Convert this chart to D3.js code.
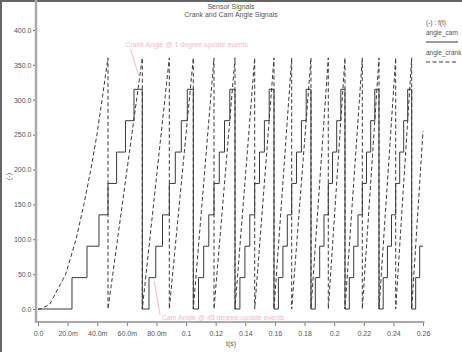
<!DOCTYPE html>
<html>
<head>
<meta charset="utf-8">
<script src="https://cdn.jsdelivr.net/npm/d3@7"></script>
<style>
  html, body { margin: 0; padding: 0; background: #fff; }
  svg { display: block; font-family: "Liberation Sans", Arial, sans-serif; }
</style>
</head>
<body>
<div id="chart-area"></div>
<script>
// Crank angle (deg) vs time (s): accelerating first revolution, then wraps at 360
var crankTimes = [0, 0.0018, 0.008, 0.0187, 0.0257, 0.031, 0.0357, 0.0398, 0.0436,
	0.04727, 0.04727, 0.07044, 0.07044, 0.08867, 0.08867, 0.10488, 0.10488,
	0.11886, 0.11886, 0.13304, 0.13304, 0.14634, 0.14634, 0.15937, 0.15937,
	0.17133, 0.17133, 0.18436, 0.18436, 0.19604, 0.19604, 0.20732, 0.20732,
	0.21901, 0.21901, 0.23028, 0.23028, 0.24156, 0.24156, 0.25236, 0.25236, 0.26];
var crankAngles = [0, 0, 7, 50, 100, 150, 200, 250, 305,
	360, 0, 360, 0, 360, 0, 360, 0,
	360, 0, 360, 0, 360, 0, 360, 0,
	360, 0, 360, 0, 360, 0, 360, 0,
	360, 0, 360, 0, 360, 0, 360, 0, 255];

// Cam angle (deg): held value starting at each time
var camTimes = [0, 0.02296, 0.03309, 0.04119, 0.04727, 0.05308, 0.05909, 0.06483,
	0.07044, 0.07496, 0.07955, 0.08408, 0.08867, 0.09272, 0.09677, 0.10082,
	0.10488, 0.10839, 0.11190, 0.11534, 0.11886, 0.12243, 0.12595, 0.12953,
	0.13304, 0.13635, 0.13972, 0.14303, 0.14634, 0.14958, 0.15289, 0.15613,
	0.15937, 0.16235, 0.16539, 0.16836, 0.17133, 0.17457, 0.17788, 0.18112,
	0.18436, 0.18727, 0.19024, 0.19314, 0.19604, 0.19888, 0.20172, 0.20449,
	0.20732, 0.21023, 0.21320, 0.21610, 0.21901, 0.22184, 0.22468, 0.22745,
	0.23028, 0.23312, 0.23596, 0.23873, 0.24156, 0.24426, 0.24696, 0.24966,
	0.25236, 0.25506, 0.25776, 0.26];
var camAngles = [0, 45, 90, 135, 180, 225, 270, 315,
	0, 45, 90, 135, 180, 225, 270, 315,
	0, 45, 90, 135, 180, 225, 270, 315,
	0, 45, 90, 135, 180, 225, 270, 315,
	0, 45, 90, 135, 180, 225, 270, 315,
	0, 45, 90, 135, 180, 225, 270, 315,
	0, 45, 90, 135, 180, 225, 270, 315,
	0, 45, 90, 135, 180, 225, 270, 315,
	0, 45, 90, 90];

// Axis ticks
var xTicks = [0, 0.02, 0.04, 0.06, 0.08, 0.1, 0.12, 0.14, 0.16, 0.18, 0.2, 0.22, 0.24, 0.26];
var xTickLabels = ["0.0", "20.0m", "40.0m", "60.0m", "80.0m", "0.1", "0.12", "0.14", "0.16", "0.18", "0.2", "0.22", "0.24", "0.26"];
var yTicks = [0, 50, 100, 150, 200, 250, 300, 350, 400];
var yTickLabels = ["0.0", "50.0", "100.0", "150.0", "200.0", "250.0", "300.0", "350.0", "400.0"];

var titleLines = ["Sensor Signals", "Crank and Cam Angle Signals"];
var legendTitle = "(-) : f(t)";
var seriesNames = ["angle_cam", "angle_crank"];
var crankNote = "Crank Angle @ 1 degree update events";
var camNote = "Cam Angle @ 45 degree update events";

var width = 462, height = 352;
var lineColor = "#3a3a3a";
var textColor = "#555";
var pink = "#f6b9cb";

var svg = d3.select("#chart-area").append("svg")
	.attr("width", width)
	.attr("height", height);

// Window frame
svg.append("line").attr("x1", 1).attr("y1", 0).attr("x2", 1).attr("y2", height)
	.attr("stroke", "#666").attr("stroke-width", 2);
svg.append("line").attr("x1", 0).attr("y1", 1).attr("x2", width).attr("y2", 1)
	.attr("stroke", "#666").attr("stroke-width", 2);

// Scales
var x = d3.scaleLinear().domain([0, 0.26]).range([38, 423]);
var y = d3.scaleLinear().domain([0, 400]).range([309, 30]);

var left = x(0) - 2, right = x(0.26) + 1, top = y(400), bottom = y(-18.5);

// Plot frame
svg.append("rect")
	.attr("x", left).attr("y", top)
	.attr("width", right - left).attr("height", bottom - top)
	.attr("fill", "none").attr("stroke", "#999").attr("stroke-width", 1);
svg.append("line").attr("x1", left).attr("x2", left).attr("y1", top).attr("y2", bottom + 1)
	.attr("stroke", "#aaa").attr("stroke-width", 2.5);
svg.append("line").attr("x1", left).attr("x2", right + 0.5).attr("y1", bottom).attr("y2", bottom)
	.attr("stroke", "#aaa").attr("stroke-width", 2);

// Axes
var xAxis = svg.append("g")
	.attr("transform", "translate(0," + (bottom + 1) + ")")
	.call(d3.axisBottom(x).tickValues(xTicks)
		.tickFormat(function(d, i) { return xTickLabels[i]; })
		.tickSize(3).tickPadding(5));
var yAxis = svg.append("g")
	.attr("transform", "translate(" + (left - 1) + ",0)")
	.call(d3.axisLeft(y).tickValues(yTicks)
		.tickFormat(function(d, i) { return yTickLabels[i]; })
		.tickSize(2).tickPadding(1.5));
[xAxis, yAxis].forEach(function(a) {
	a.select(".domain").remove();
	a.selectAll("line").attr("stroke", "#777");
	a.selectAll("text").attr("font-size", 7).attr("fill", textColor)
		.attr("font-family", "Liberation Sans, Arial, sans-serif");
});

// Titles
svg.selectAll(".title").data(titleLines).enter().append("text")
	.attr("x", 231).attr("y", function(d, i) { return 9 + i * 8; })
	.attr("text-anchor", "middle").attr("font-size", 7).attr("fill", textColor)
	.text(function(d) { return d; });

svg.append("text").attr("x", 231).attr("y", 346)
	.attr("text-anchor", "middle").attr("font-size", 7).attr("fill", textColor)
	.text("t(s)");
svg.append("text")
	.attr("transform", "translate(11," + y(190) + ") rotate(-90)")
	.attr("text-anchor", "middle").attr("font-size", 7).attr("fill", textColor)
	.text("(-)");

// Series
var camData = camTimes.map(function(t, i) { return [t, camAngles[i]]; });
var crankData = crankTimes.map(function(t, i) { return [t, crankAngles[i]]; });

svg.append("path")
	.datum(camData)
	.attr("fill", "none").attr("stroke", lineColor).attr("stroke-width", 1)
	.attr("d", d3.line().x(function(d) { return x(d[0]); }).y(function(d) { return y(d[1]); })
		.curve(d3.curveStepAfter));

svg.append("path")
	.datum(crankData)
	.attr("fill", "none").attr("stroke", lineColor).attr("stroke-width", 1)
	.attr("stroke-dasharray", "4,2.5")
	.attr("d", d3.line().x(function(d) { return x(d[0]); }).y(function(d) { return y(d[1]); }));

// Legend
var lx = right + 2;
svg.append("text").attr("x", lx).attr("y", 25).attr("font-size", 6.5).attr("fill", textColor).text(legendTitle);
seriesNames.forEach(function(name, i) {
	var ly = 35 + i * 20;
	svg.append("text").attr("x", lx).attr("y", ly).attr("font-size", 6.5).attr("fill", textColor).text(name);
	svg.append("line").attr("x1", lx).attr("x2", lx + 32).attr("y1", ly + 7).attr("y2", ly + 7)
		.attr("stroke", lineColor).attr("stroke-width", 1)
		.attr("stroke-dasharray", i === 1 ? "4,2.5" : null);
});

// Annotations
svg.append("text").attr("x", x(0.059)).attr("y", 47).attr("font-size", 7).attr("fill", pink).text(crankNote);
svg.append("line").attr("x1", x(0.0625)).attr("y1", 49).attr("x2", x(0.068)).attr("y2", y(335))
	.attr("stroke", pink).attr("stroke-width", 1);
svg.append("text").attr("x", x(0.0835)).attr("y", 320).attr("font-size", 7).attr("fill", pink).text(camNote);
svg.append("line").attr("x1", x(0.0785)).attr("y1", y(40)).attr("x2", x(0.0825)).attr("y2", 315)
	.attr("stroke", pink).attr("stroke-width", 1);
</script>
</body>
</html>
